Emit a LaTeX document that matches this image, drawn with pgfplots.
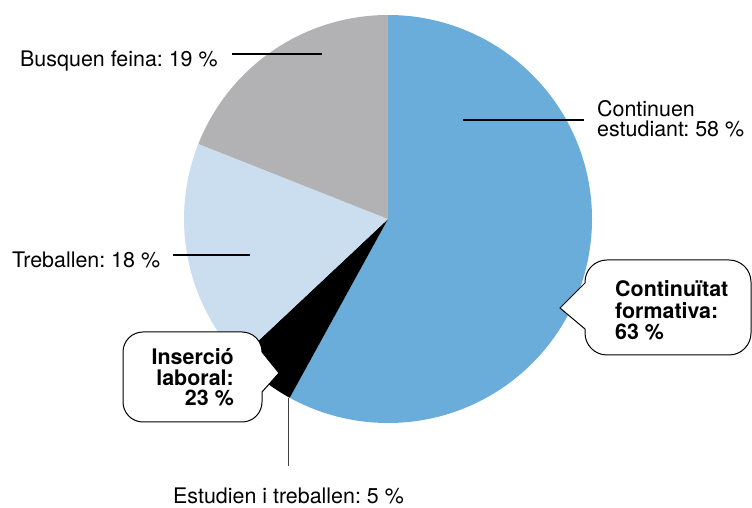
\documentclass[border=0pt]{standalone}
\usepackage{fontspec}
\setmainfont{TeX Gyre Heros}
\usepackage{pgfplots}
\pgfplotsset{compat=1.18}

\definecolor{pieblue}{HTML}{6AADDB}
\definecolor{pielight}{HTML}{CBDEF0}
\definecolor{piegray}{HTML}{B2B2B4}

% shares (%), clockwise from the top
\def\vA{58} % Continuen estudiant
\def\vB{5}  % Estudien i treballen
\def\vC{18} % Treballen
\def\vD{19} % Busquen feina

\begin{document}
\frenchspacing
\begin{tikzpicture}
\begin{axis}[
    width=752bp, height=508bp,
    scale only axis,
    xmin=0, xmax=752, ymin=0, ymax=508,
    hide axis, clip=false,
]
\path (axis cs:0,0) rectangle (axis cs:752,508);

% pie, centre (388,289), radius 204
\fill[pieblue]  (axis cs:388,289) -- (axis cs:388,493)
    arc[start angle=90, delta angle={-3.6*\vA}, radius=204] -- cycle;
\fill[black]    (axis cs:388,289) -- ++({90-3.6*\vA}:204)
    arc[start angle={90-3.6*\vA}, delta angle={-3.6*\vB}, radius=204] -- cycle;
\fill[pielight] (axis cs:388,289) -- ++({90-3.6*(\vA+\vB)}:204)
    arc[start angle={90-3.6*(\vA+\vB)}, delta angle={-3.6*\vC}, radius=204] -- cycle;
\fill[piegray]  (axis cs:388,289) -- ++({90-3.6*(\vA+\vB+\vC)}:204)
    arc[start angle={90-3.6*(\vA+\vB+\vC)}, delta angle={-3.6*\vD}, radius=204] -- cycle;

% leader lines
\draw[line width=1.2bp] (axis cs:232,454) -- (axis cs:322,454);
\draw[line width=1.2bp] (axis cs:463,388) -- (axis cs:584,388);
\draw[line width=1.2bp] (axis cs:173,253) -- (axis cs:250,253);
\draw[line width=1bp, black!75] (axis cs:288,110) -- (axis cs:288,42);

% labels
\tikzset{lab/.style={inner sep=0pt, font=\fontsize{21.5}{21}\selectfont}}
\node[lab, anchor=base west] at (axis cs:20,441.5) {Busquen feina: 19 \%};
\node[lab, anchor=base west] at (axis cs:597,391.5) {Continuen};
\node[lab, anchor=base west] at (axis cs:597,371.5) {estudiant: 58 \%};
\node[lab, anchor=base west] at (axis cs:12,240.5) {Treballen: 18 \%};
\node[lab, anchor=base west] at (axis cs:173,5) {Estudien i treballen: 5 \%};

% callouts
\draw[fill=white, line width=1bp] (axis cs:585,225) [rounded corners=22bp]
    -- (axis cs:585,248) -- (axis cs:751,248) -- (axis cs:751,153)
    -- (axis cs:585,153) [sharp corners] -- (axis cs:585,179)
    -- (axis cs:560,200) -- cycle;
\draw[fill=white, line width=1bp] (axis cs:262,156) [rounded corners=20bp]
    -- (axis cs:262,176) -- (axis cs:123,176) -- (axis cs:123,86)
    -- (axis cs:262,86) [sharp corners] -- (axis cs:262,116)
    -- (axis cs:279,135) -- cycle;

\tikzset{blab/.style={inner sep=0pt, font=\bfseries\fontsize{21.5}{21}\selectfont}}
\node[blab, anchor=base west] at (axis cs:615,211) {Continuïtat};
\node[blab, anchor=base west] at (axis cs:615,189.5) {formativa:};
\node[blab, anchor=base west] at (axis cs:615,168) {63 \%};
\node[blab, anchor=base east] at (axis cs:234,143.5) {Inserció};
\node[blab, anchor=base east] at (axis cs:234,122) {laboral:};
\node[blab, anchor=base east] at (axis cs:234,102) {23 \%};
\end{axis}
\end{tikzpicture}
\end{document}
